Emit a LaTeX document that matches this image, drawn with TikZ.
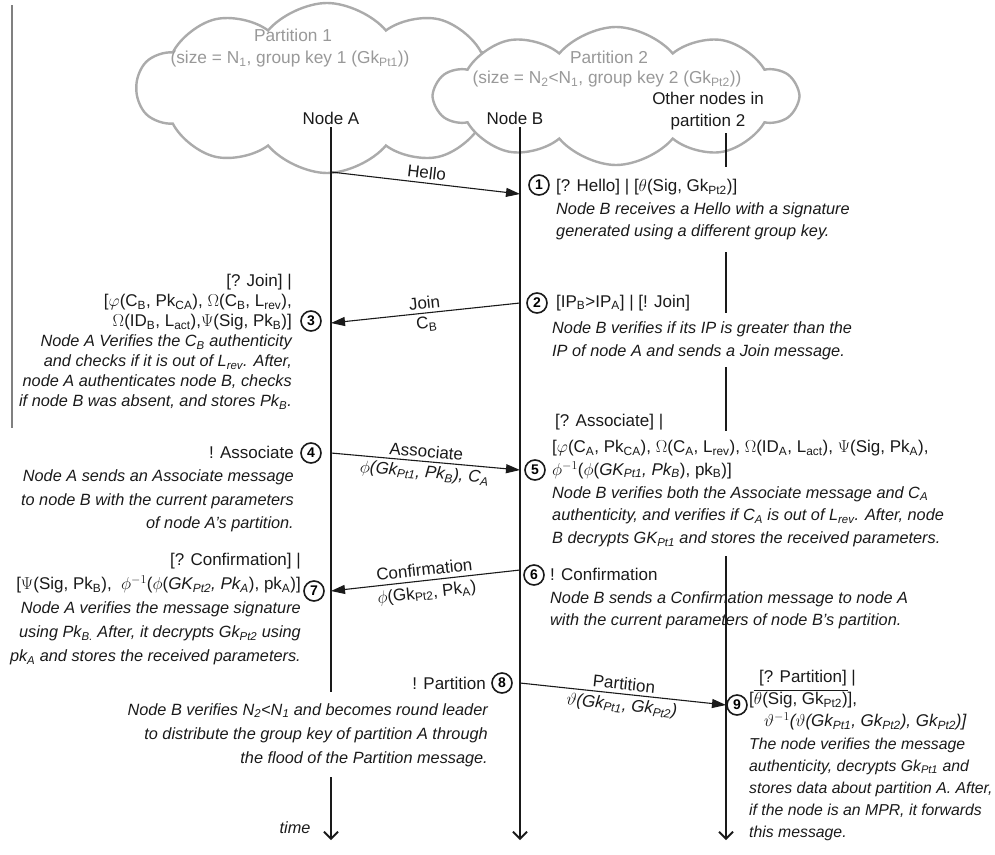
\documentclass[tikz,border=0pt]{standalone}
\usepackage{amsmath}
\usepackage{fontspec}
\setmainfont{Liberation Sans}
\usepackage{tikz}
\usetikzlibrary{arrows.meta,shapes.symbols,positioning}
\definecolor{ink}{HTML}{1A1A1A}
\definecolor{fog}{HTML}{ABABAB}
\definecolor{fogtext}{HTML}{999999}
\definecolor{stray}{HTML}{808080}
\newcommand{\lo}[1]{\textsubscript{#1}}
\newcommand{\ds}[1]{{\fontsize{16.3}{20}\selectfont\itshape #1}}
\tikzset{
  life/.style={draw=ink, line width=1.8pt, -{Straight Barb[length=7pt,width=14pt]}},
  msg/.style={draw=ink, line width=1.1pt, -{Triangle[length=14pt,width=9pt]}},
  num/.style={circle, draw=ink, line width=1.6pt, minimum size=20pt, inner sep=0pt, font=\fontsize{14}{14}\selectfont\bfseries},
  txt/.style={text=ink, font=\fontsize{17}{23}\selectfont, inner sep=0pt},
  mlab/.style={txt, sloped, inner sep=3.5pt},
  puff/.style={cloud, cloud puffs=10, cloud puff arc=100, cloud ignores aspect, draw=fog, line width=2.4pt, fill=white},
  ptext/.style={txt, text=fogtext, font=\fontsize{17.3}{20}\selectfont},
}

\begin{document}
\begin{tikzpicture}[x=1pt,y=-1pt]
  \def\xa{331}
  \def\xb{520}
  \def\xc{726}
  \useasboundingbox (0,0) rectangle (995,854);

  \draw[stray, line width=1.5pt] (12,5) -- (12,428);

  % the two partitions
  \node[puff, minimum width=380pt, minimum height=170pt] (pt1) at (327,88) {};
  \node[puff, minimum width=362pt, minimum height=138pt] (pt2) at (616,96) {};
  \node[ptext] (pt1a) at (293,35) {Partition 1};
  \node[ptext] (pt1b) at (290,59) {(size = N\lo{1}, group key 1 (Gk\lo{Pt1}))};
  \node[ptext] (pt2a) at (609,57) {Partition 2};
  \node[ptext] (pt2b) at (607,79) {(size = N\lo{2}<N\lo{1}, group key 2 (Gk\lo{Pt2}))};

  \node[txt, inner sep=3pt] (nA) at (\xa,118) {Node A};
  \node[txt, inner sep=3pt] (nB) at (515,118) {Node B};
  \node[txt, inner sep=3pt, align=center, font=\fontsize{17}{22}\selectfont] (nC) at (708,111) {Other nodes in\\partition 2};

  \coordinate (aEnd) at (\xa,840);
  \coordinate (bEnd) at (\xb,840);
  \coordinate (cEnd) at (\xc,840);
  \draw[life] (nA) -- (aEnd);
  \draw[life] (nB.south -| bEnd) -- (bEnd);
  \draw[life] (nC.south -| cEnd) -- (cEnd);

  % messages
  \coordinate (a1) at (\xa,172); \coordinate (b1) at (\xb,194);
  \coordinate (b2) at (\xb,303); \coordinate (a2) at (\xa,323);
  \coordinate (a3) at (\xa,453); \coordinate (b3) at (\xb,470);
  \coordinate (b4) at (\xb,570); \coordinate (a4) at (\xa,591);
  \coordinate (b5) at (\xb,683); \coordinate (c5) at (\xc,705);

  \draw[msg] (a1) -- node[mlab, above] (mHello) {Hello} (b1);
  \draw[msg] (b2) -- node[mlab, above] (mJoin) {Join} node[mlab, below] (mJoinb) {C\lo{B}} (a2);
  \draw[msg] (a3) -- node[mlab, above] (mAss) {Associate}
    node[mlab, below] (mAssb) {\textit{$\phi$(Gk\lo{Pt1}, Pk\lo{B}), C\lo{A}}} (b3);
  \draw[msg] (b4) -- node[mlab, above=1pt] (mConf) {Confirmation}
    node[mlab, below=1pt] (mConfb) {$\phi$(Gk\lo{Pt2}, Pk\lo{A})} (a4);
  \draw[msg] (b5) -- node[mlab, above] (mPart) {Partition}
    node[mlab, below] (mPartb) {\textit{$\vartheta$(Gk\lo{Pt1}, Gk\lo{Pt2})}} (c5);

  % steps
  \node[txt, fill=white, inner xsep=2pt, inner ysep=12pt, anchor=north west, align=left, font=\fontsize{17}{22.5}\selectfont] (t1) at (554,167)
    {[? Hello] | [$\theta$(Sig, Gk\lo{Pt2})]\\
     \ds{Node B receives a Hello with a signature}\\
     \ds{generated using a different group key.}};

  \node[txt, anchor=west] (h2) at (556,303) {[IP\lo{B}>IP\lo{A}] | [! Join]};
  \node[txt, fill=white, inner ysep=8pt, anchor=north west, align=left] (t2) at (552,313)
    {\ds{Node B verifies if its IP is greater than the}\\
     \ds{IP of node A and sends a Join message.}};

  \node[txt, anchor=north east, align=right, font=\fontsize{17}{20}\selectfont] (t3) at (292,274)
    {[? Join] |\\ \relax
     [$\varphi$(C\lo{B}, Pk\lo{CA}), $\Omega$(C\lo{B}, L\lo{rev}),\\
     $\Omega$(ID\lo{B}, L\lo{act}),$\Psi$(Sig, Pk\lo{B})]\\
     \ds{Node A Verifies the C\lo{B} authenticity}\\
     \ds{and checks if it is out of L\lo{rev}. After,}\\
     \ds{node A authenticates node B, checks}\\
     \ds{if node B was absent, and stores Pk\lo{B}.}};

  \node[txt, anchor=north east, align=right, font=\fontsize{17}{23.3}\selectfont] (t4) at (294,446)
    {! Associate\\
     \ds{Node A sends an Associate message}\\
     \ds{to node B with the current parameters}\\
     \ds{of node A’s partition.}};

  \node[txt, anchor=west] (h5) at (555,422) {[? Associate] |};
  \node[txt, fill=white, inner ysep=9pt, anchor=north west, align=left, font=\fontsize{17}{22.75}\selectfont] (t5) at (552,431)
    {[$\varphi$(C\lo{A}, Pk\lo{CA}), $\Omega$(C\lo{A}, L\lo{rev}), $\Omega$(ID\lo{A}, L\lo{act}), $\Psi$(Sig, Pk\lo{A}),\\
     $\phi^{-1}$($\phi$(\textit{GK\lo{Pt1}, Pk\lo{B}}), pk\lo{B})]\\
     \ds{Node B verifies both the Associate message and C\lo{A}}\\
     \ds{authenticity, and verifies if C\lo{A} is out of L\lo{rev}. After, node}\\
     \ds{B decrypts GK\lo{Pt1} and stores the received parameters.}};

  \node[txt, anchor=north west, align=left, font=\fontsize{17}{22.5}\selectfont] (t6) at (550,568)
    {! Confirmation\\
     \ds{Node B sends a Confirmation message to node A}\\
     \ds{with the current parameters of node B’s partition.}};

  \node[txt, anchor=north east, align=right, font=\fontsize{17}{24}\selectfont] (t7) at (301,553)
    {[? Confirmation] |\\ \relax
     [$\Psi$(Sig, Pk\lo{B}),\ \ $\phi^{-1}$($\phi$(\textit{GK\lo{Pt2}, Pk\lo{A}}), pk\lo{A})]\\
     \ds{Node A verifies the message signature}\\
     \ds{using Pk\lo{B.} After, it decrypts Gk\lo{Pt2} using}\\
     \ds{pk\lo{A} and stores the received parameters.}};

  \node[txt, anchor=east] (h8) at (486,683) {! Partition};
  \node[txt, fill=white, inner ysep=11pt, anchor=north east, align=right, font=\fontsize{17}{24}\selectfont] (t8) at (488,692)
    {\ds{Node B verifies N\lo{2}<N\lo{1} and becomes round leader}\\
     \ds{to distribute the group key of partition A through}\\
     \ds{the flood of the Partition message.}};

  \node[txt, anchor=north west, align=left, font=\fontsize{17}{22.2}\selectfont] (t9) at (749,670)
    {\hspace{10pt}[? Partition] |\\ \relax
     [\(\overline{\mbox{$\theta$(Sig, Gk\lo{Pt2})}}\)],\\
     \hspace{15pt}\textit{$\vartheta^{-1}$($\vartheta$(Gk\lo{Pt1}, Gk\lo{Pt2}), Gk\lo{Pt2})]}\\
     {\fontsize{15.8}{20}\selectfont\itshape The node verifies the message}\\
     {\fontsize{15.8}{20}\selectfont\itshape authenticity, decrypts Gk\lo{Pt1} and}\\
     {\fontsize{15.8}{20}\selectfont\itshape stores data about partition A. After,}\\
     {\fontsize{15.8}{20}\selectfont\itshape if the node is an MPR, it forwards}\\
     {\fontsize{15.8}{20}\selectfont\itshape this message.}};

  \node[txt, font=\fontsize{16.3}{16}\selectfont\itshape] (tm) at (295,828) {time};

  \node[num] (s1) at (539,185) {1};
  \node[num] (s2) at (537,303) {2};
  \node[num] (s3) at (311,321) {3};
  \node[num] (s4) at (311,453) {4};
  \node[num] (s5) at (535,470) {5};
  \node[num] (s6) at (534,575) {6};
  \node[num] (s7) at (314,591) {7};
  \node[num] (s8) at (502,683) {8};
  \node[num] (s9) at (737,705) {9};
\end{tikzpicture}
\end{document}
